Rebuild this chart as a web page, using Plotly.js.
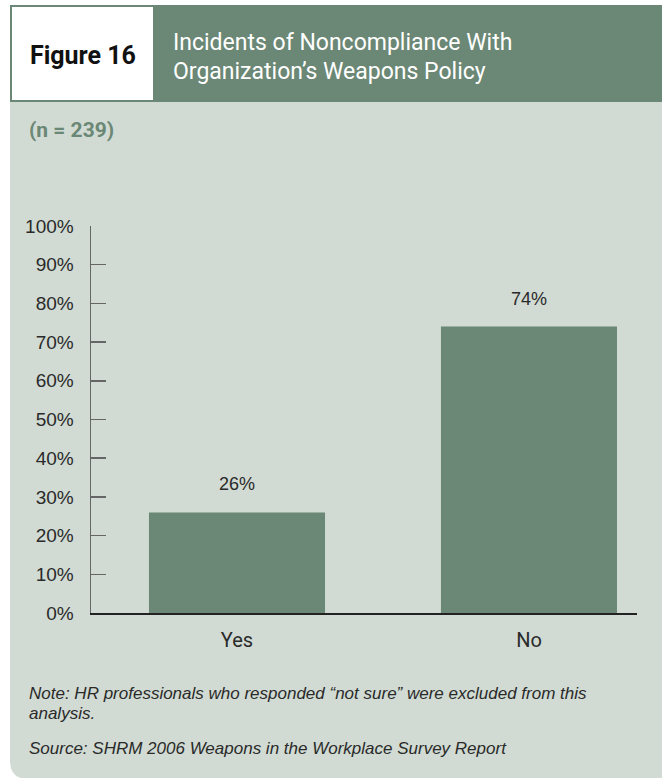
<!DOCTYPE html>
<html>
<head>
<meta charset="utf-8">
<script src="https://cdn.plot.ly/plotly-3.0.1.min.js"></script>
<style>
html,body{margin:0;padding:0;background:#ffffff;}
#chart{width:662px;height:778px;}
</style>
</head>
<body>
<div id="chart"></div>
<script>
// ---- data ----
const categories = ["Yes", "No"];
const values = [26, 74];
const yTickValues = [0, 10, 20, 30, 40, 50, 60, 70, 80, 90, 100];
const figureLabel = "Figure 16";
const titleLines = ["Incidents of Noncompliance With", "Organization\u2019s Weapons Policy"];
const sampleNote = "(n = 239)";
const noteLines = [
  "Note: HR professionals who responded \u201cnot sure\u201d were excluded from this",
  "analysis."
];
const sourceLine = "Source: SHRM 2006 Weapons in the Workplace Survey Report";

// ---- layout geometry ----
const W = 662, H = 778;
const M = {l: 91, r: 25, t: 226, b: 165};
const PW = W - M.l - M.r, PH = H - M.t - M.b;
const px = x => (x - M.l) / PW;
const py = y => (H - M.b - y) / PH;

const DARK = "#6b8775";
const LIGHT = "#d1dbd3";
const TEXT = "#2a2a2a";
const COND = "Roboto, 'Liberation Sans Narrow', 'DejaVu Sans Condensed', sans-serif";
const SANS = "'Liberation Sans', Arial, sans-serif";

// panel with rounded bottom-left corner
const x0 = 10, x1 = 664, yt = 5, yb = 779, r = 18;
const panelPath = `M ${px(x0)},${py(yt)} L ${px(x1)},${py(yt)} L ${px(x1)},${py(yb)} L ${px(x0 + r)},${py(yb)} Q ${px(x0)},${py(yb)} ${px(x0)},${py(yb - r)} Z`;

const shapes = [
  {type: "path", xref: "paper", yref: "paper", path: panelPath, fillcolor: LIGHT, line: {width: 0}, layer: "below"},
  {type: "rect", xref: "paper", yref: "paper", x0: px(10), x1: px(664), y0: py(102), y1: py(5), fillcolor: DARK, line: {width: 0}, layer: "below"},
  {type: "rect", xref: "paper", yref: "paper", x0: px(12), x1: px(153), y0: py(100), y1: py(7), fillcolor: "#ffffff", line: {width: 0}, layer: "below"}
];

const annotations = [];
annotations.push({xref: "paper", yref: "paper", x: px(83), y: py(56), xanchor: "center", yanchor: "middle",
  text: "<b>" + figureLabel + "</b>", showarrow: false, font: {family: COND, size: 25, color: "#111111"}});
titleLines.forEach((t, i) => {
  annotations.push({xref: "paper", yref: "paper", x: px(171), y: py(42 + i * 29), xanchor: "left", yanchor: "middle",
    text: t, showarrow: false, font: {family: COND, size: 23, color: "#ffffff"}});
});
annotations.push({xref: "paper", yref: "paper", x: px(27), y: py(130), xanchor: "left", yanchor: "middle",
  text: "<b>" + sampleNote + "</b>", showarrow: false, font: {family: COND, size: 21, color: DARK}});
noteLines.forEach((t, i) => {
  annotations.push({xref: "paper", yref: "paper", x: px(27), y: py(693 + i * 20), xanchor: "left", yanchor: "middle",
    text: t, showarrow: false, font: {family: SANS, size: 17, color: TEXT, style: "italic"}});
});
annotations.push({xref: "paper", yref: "paper", x: px(27), y: py(748), xanchor: "left", yanchor: "middle",
  text: sourceLine, showarrow: false, font: {family: SANS, size: 17, color: TEXT, style: "italic"}});

// data labels above bars
categories.forEach((c, i) => {
  annotations.push({x: c, y: values[i], xref: "x", yref: "y", yanchor: "bottom", yshift: 16,
    text: values[i] + "%", showarrow: false, font: {family: SANS, size: 18, color: TEXT}});
});

const trace = {
  type: "bar",
  x: categories,
  y: values,
  width: 0.603,
  marker: {color: DARK, line: {width: 0}},
  hoverinfo: "none"
};

const layout = {
  width: W, height: H,
  margin: M,
  paper_bgcolor: "rgba(0,0,0,0)",
  plot_bgcolor: "rgba(0,0,0,0)",
  showlegend: false,
  shapes: shapes,
  annotations: annotations,
  xaxis: {
    type: "category",
    range: [-0.5, 1.37],
    showline: true, linecolor: "#222222", linewidth: 1.5,
    ticks: "", showgrid: false, zeroline: false,
    tickfont: {family: COND, size: 20, color: TEXT},
    ticklabelstandoff: 8
  },
  yaxis: {
    range: [0, 100],
    tickvals: yTickValues,
    ticktext: yTickValues.map(v => v + "%"),
    showline: true, linecolor: "#666666", linewidth: 1.5,
    ticks: "inside", ticklen: 15, tickwidth: 1.5, tickcolor: "#666666",
    showgrid: false, zeroline: false,
    tickfont: {family: SANS, size: 19, color: TEXT},
    ticklabelstandoff: 12
  }
};

Plotly.newPlot("chart", [trace], layout, {displayModeBar: false, staticPlot: true});
</script>
</body>
</html>
